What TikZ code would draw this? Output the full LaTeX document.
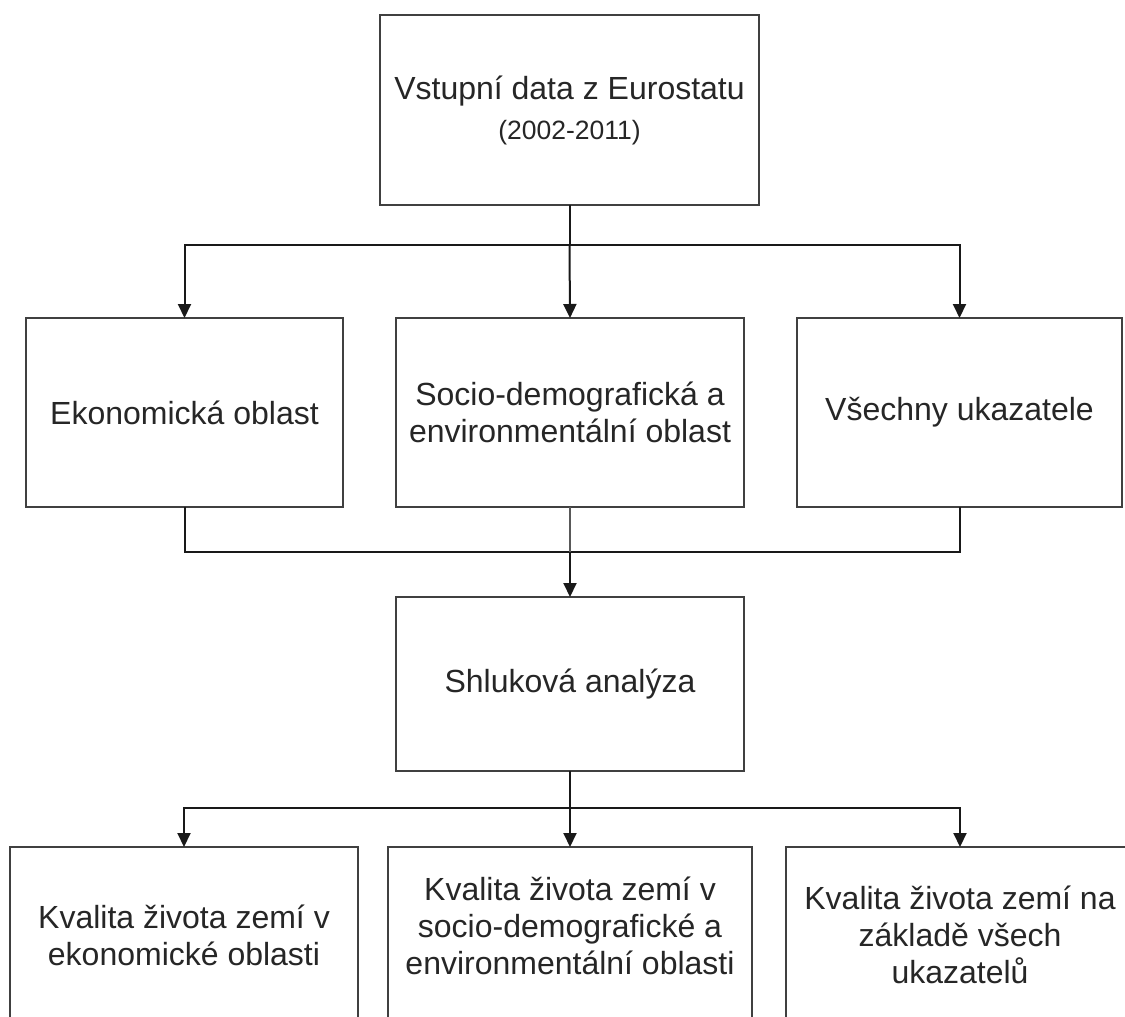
\documentclass[tikz,border=0pt]{standalone}
\usepackage{fontspec}
\setmainfont{Liberation Sans}
\usetikzlibrary{arrows.meta}
\begin{document}
\begin{tikzpicture}[x=1pt,y=-1pt,
  box/.style={draw=black!75, line width=2pt, fill=white, inner sep=0pt, outer sep=0pt},
  txt/.style={font=\fontsize{32}{37}\selectfont, text=black!85, align=center, inner sep=0pt},
  link/.style={line width=2pt, draw=black!90},
  arr/.style={link, -{Triangle[length=14pt,width=13pt]}}]
\useasboundingbox (0,0) rectangle (1125,1017);
\clip (0,0) rectangle (1125,1017);

% source box
\node[box, txt, minimum width=379pt, minimum height=190pt] (src) at (569.5,110)
  {Vstupní data z Eurostatu\\[3pt]{\fontsize{26.5}{30}\selectfont (2002-2011)}};

% indicator groups
\node[box, txt, minimum width=317pt, minimum height=189pt] (eko) at (184.5,412.5) {Ekonomická oblast};
\node[box, txt, minimum width=348pt, minimum height=189pt] (soc) at (570,412.5) {Socio-demografická a\\environmentální oblast};
\node[box, txt, minimum width=325pt, minimum height=189pt] (vse) at (959.5,412.5) {Všechny ukazatele};

% cluster analysis
\node[box, txt, minimum width=348pt, minimum height=174pt] (shl) at (570,684) {Shluková analýza};

% results
\node[box, minimum width=348pt, minimum height=190pt] (q1) at (184,942) {};
\node[box, minimum width=364pt, minimum height=190pt] (q2) at (570,942) {};
\node[box, minimum width=348pt, minimum height=190pt] (q3) at (960,942) {};
\node[txt] (q1t) at (184,935) {Kvalita života zemí v\\ekonomické oblasti};
\node[txt] (q2t) at (570,926) {Kvalita života zemí v\\socio-demografické a\\environmentální oblasti};
\node[txt] (q3t) at (960,935) {Kvalita života zemí na\\základě všech\\ukazatelů};

% branching into the three groups
\coordinate (s1) at (569.5,245);
\draw[link] (src.south) -- (s1);
\draw[arr] (s1) -| (eko.north);
\draw[arr] (s1) -| (vse.north);
\draw[arr] (s1) -- (soc.north);

% merging into the cluster analysis
\coordinate (m1) at (570,552);
\draw[link] (eko.south) |- (m1) -| (vse.south);
\draw[link, line width=1.5pt, draw=black!65] (soc.south) -- (m1);
\draw[arr] (m1) -- (shl.north);

% branching into the results
\coordinate (s2) at (570,808);
\draw[link] (shl.south) -- (s2);
\draw[arr] (s2) -| (q1.north);
\draw[arr] (s2) -| (q3.north);
\draw[arr] (s2) -- (q2.north);
\end{tikzpicture}
\end{document}
